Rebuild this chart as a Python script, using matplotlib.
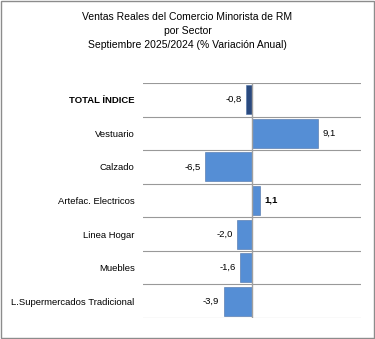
import numpy as np
import matplotlib.pyplot as plt
from matplotlib.patches import Rectangle

plt.rcParams['font.family'] = ['Liberation Sans', 'DejaVu Sans']

# datos del gráfico
sectores = ["TOTAL ÍNDICE", "Vestuario", "Calzado", "Artefac. Electricos",
            "Linea Hogar", "Muebles", "L.Supermercados Tradicional"]
variacion = [-0.8, 9.1, -6.5, 1.1, -2.0, -1.6, -3.9]

colores = ["#2A4A7F"] + ["#558ED5"] * (len(sectores) - 1)

fig = plt.figure(figsize=(3.75, 3.39), dpi=100)
ax = fig.add_axes([143 / 375, 1 - 318 / 339, (361 - 143) / 375, (318 - 83) / 339])

y = np.arange(len(sectores))
ax.barh(y, variacion, height=0.86, color=colores, edgecolor="#4a6fa5", linewidth=0.4, zorder=3)
ax.set_xlim(-15, 15)
ax.set_ylim(len(sectores) - 0.5, -0.5)

# líneas horizontales entre categorías
ax.set_yticks(y)
ax.set_yticklabels(sectores, fontsize=6.8)
ax.set_yticks(np.arange(-0.5, len(sectores)), minor=True)
ax.tick_params(axis="y", which="both", length=0, pad=6)
ax.grid(axis="y", which="minor", color="#999999", linewidth=0.8, zorder=0)
ax.get_yticklabels()[0].set_fontweight("bold")
ax.set_xticks([])
ax.axvline(0, color="#a0a0a0", linewidth=1.0, zorder=4)
for s in ax.spines.values():
    s.set_visible(False)

# etiquetas de valores
for yi, v in zip(y, variacion):
    txt = f"{v:.1f}".replace(".", ",")
    if v < 0:
        ax.text(v - 0.6, yi, txt, ha="right", va="center", fontsize=6.8)
    else:
        ax.text(v + 0.6, yi, txt, ha="left", va="center", fontsize=6.8,
                fontweight="bold" if v < 2 else "normal")

fig.text(0.5, 1 - 17 / 339, "Ventas Reales del Comercio Minorista de RM", ha="center", va="center", fontsize=7.5)
fig.text(0.5, 1 - 31 / 339, "por Sector", ha="center", va="center", fontsize=7.5)
fig.text(0.5, 1 - 45 / 339, "Septiembre 2025/2024 (% Variación Anual)", ha="center", va="center", fontsize=7.5)

fig.patches.append(Rectangle((0.002, 0.002), 0.994, 0.994, transform=fig.transFigure,
                             fill=False, edgecolor="#8c8c8c", linewidth=1.0))

fig.savefig("out.png", dpi=100)
